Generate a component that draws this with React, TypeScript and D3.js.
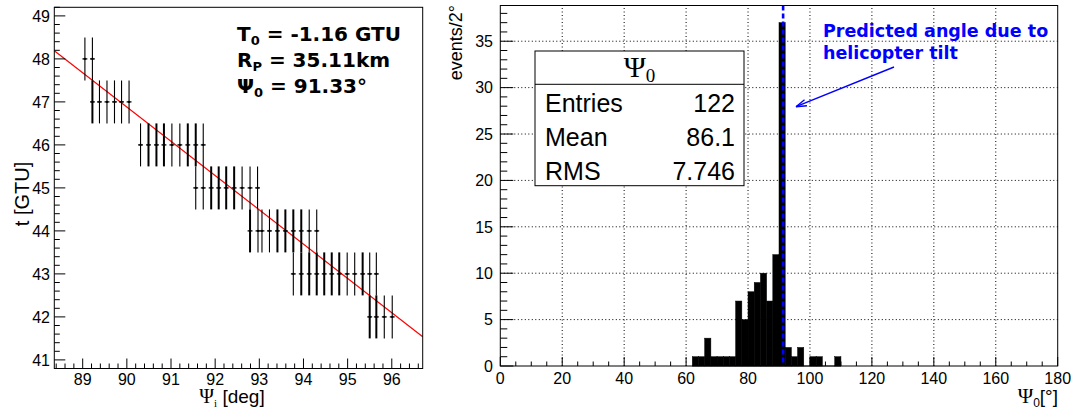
import React from "react";
import * as d3 from "d3";

// ---------- Left panel data: t vs Psi_i ----------
const psiValues = [
  89.05, 89.22,
  89.22, 89.38, 89.55, 89.72, 89.88, 90.05,
  90.31, 90.49, 90.67, 90.84, 91.02, 91.2, 91.38, 91.56, 91.73,
  91.56, 91.73, 91.91, 92.08, 92.25, 92.43, 92.61, 92.79, 92.96,
  92.79, 92.97, 93.06, 93.23, 93.41, 93.59, 93.77, 93.95, 94.13, 94.3,
  93.77, 93.95, 94.13, 94.3, 94.47, 94.64, 94.81, 94.99, 95.16, 95.34, 95.5, 95.65,
  95.5, 95.65, 95.83, 96.01,
];
const tValues = [
  48, 48,
  47, 47, 47, 47, 47, 47,
  46, 46, 46, 46, 46, 46, 46, 46, 46,
  45, 45, 45, 45, 45, 45, 45, 45, 45,
  44, 44, 44, 44, 44, 44, 44, 44, 44, 44,
  43, 43, 43, 43, 43, 43, 43, 43, 43, 43, 43, 43,
  42, 42, 42, 42,
];
// how many measurements overlap at the same point
const multiplicity = [
  1, 1,
  2, 1, 1, 1, 1, 1,
  1, 2, 2, 2, 1, 1, 2, 2, 1,
  1, 1, 2, 2, 2, 2, 1, 1, 1,
  2, 1, 1, 1, 2, 2, 2, 2, 1, 1,
  1, 2, 2, 2, 2, 2, 2, 1, 1, 2, 1, 1,
  2, 2, 1, 1,
];
const tError = 0.5;
const psiError = 0.055;
// linear fit t = p0 + p1 * psi
const fitP0 = 118.61;
const fitP1 = -0.797;
const leftXTicks = [89, 90, 91, 92, 93, 94, 95, 96];
const leftYTicks = [41, 42, 43, 44, 45, 46, 47, 48, 49];

// ---------- Right panel data: Psi_0 histogram ----------
const binLow = [62, 64, 66, 68, 70, 72, 74, 76, 78, 80, 82, 84, 86, 88, 90, 92, 94, 96, 98, 100, 102, 104, 106, 108];
const binCounts = [1, 1, 3, 1, 1, 1, 1, 7, 5, 8, 9, 10, 7, 12, 37, 2, 1, 2, 0, 1, 1, 0, 0, 1];
const binWidth = 2;
const predictedAngle = 91.33;
const rightXTicks = [0, 20, 40, 60, 80, 100, 120, 140, 160, 180];
const rightYTicks = [0, 5, 10, 15, 20, 25, 30, 35];
const statsLabels = ["Entries", "Mean", "RMS"];
const statsValues = ["122", "86.1", "7.746"];

const SANS = "'Liberation Sans', Arial, Helvetica, sans-serif";
const SERIF = "'Liberation Serif', 'Times New Roman', serif";
const BOLD = "'DejaVu Sans', sans-serif";
const BLUE = "#0000ff";

export default function App() {
  const xL = d3.scaleLinear().domain([88.357, 96.7]).range([54.3, 422.7]);
  const yL = d3.scaleLinear().domain([40.8, 49.2]).range([368.5, 7.3]);
  const xR = d3.scaleLinear().domain([0, 180]).range([500.3, 1057.7]);
  const yR = d3.scaleLinear().domain([0, 38.85]).range([366, 5.5]);

  const [lx0, lx1] = xL.range();
  const [ly0, ly1] = yL.range();
  const [rx0, rx1] = xR.range();
  const [ry0, ry1] = yR.range();

  const leftMinorX = d3.range(88.4, 96.7, 0.2).filter((v) => Math.abs(v - Math.round(v)) > 0.01);
  const leftMinorY = d3.range(40.8, 49.2, 0.2).filter((v) => Math.abs(v - Math.round(v)) > 0.01);
  const rightMinorX = d3.range(5, 180, 5).filter((v) => v % 20 !== 0);
  const rightMinorY = d3.range(1, 39, 1).filter((v) => v % 5 !== 0);

  const fitX0 = xL.domain()[0];
  const fitX1 = xL.domain()[1];

  const arrStart = [894, 67];
  const arrEnd = [796, 106.7];
  const ang = Math.atan2(arrStart[1] - arrEnd[1], arrStart[0] - arrEnd[0]);
  const headLen = 11;
  const headAng = 0.3;

  return (
    <svg width={1073} height={412} style={{ position: "absolute", left: 0, top: 0, background: "#fff" }}>
      <rect x={0} y={0} width={1073} height={412} fill="#fff" />
      {/* ================= LEFT PANEL ================= */}
      <g>
        <line
          x1={xL(fitX0)} y1={yL(fitP0 + fitP1 * fitX0)}
          x2={xL(fitX1)} y2={yL(fitP0 + fitP1 * fitX1)}
          stroke="#ff0000" strokeWidth={1.2}
        />
        {psiValues.map((p, i) => {
          const cx = xL(p);
          const cy = yL(tValues[i]);
          const w = multiplicity[i] > 1 ? 2 : 1.1;
          return (
            <g key={i}>
              <line x1={cx} x2={cx} y1={yL(tValues[i] - tError)} y2={yL(tValues[i] + tError)} stroke="#000" strokeWidth={w} />
              <line x1={xL(p - psiError)} x2={xL(p + psiError)} y1={cy} y2={cy} stroke="#000" strokeWidth={1.3} />
              <rect x={cx - 1} y={cy - 1} width={2} height={2} fill="#000" />
            </g>
          );
        })}
        <rect x={lx0} y={ly1} width={lx1 - lx0} height={ly0 - ly1} fill="none" stroke="#000" strokeWidth={1} />
        {leftXTicks.map((v) => (
          <g key={"lx" + v}>
            <line x1={xL(v)} x2={xL(v)} y1={ly0} y2={ly0 - 10} stroke="#000" />
            <text x={xL(v)} y={385} textAnchor="middle" fontFamily={SANS} fontSize={16}>{v}</text>
          </g>
        ))}
        {leftMinorX.map((v, i) => (
          <line key={"lmx" + i} x1={xL(v)} x2={xL(v)} y1={ly0} y2={ly0 - 5} stroke="#000" />
        ))}
        {leftYTicks.map((v) => (
          <g key={"ly" + v}>
            <line x1={lx0} x2={lx0 + 11} y1={yL(v)} y2={yL(v)} stroke="#000" />
            <text x={50} y={yL(v)} dy="0.36em" textAnchor="end" fontFamily={SANS} fontSize={16}>{v}</text>
          </g>
        ))}
        {leftMinorY.map((v, i) => (
          <line key={"lmy" + i} x1={lx0} x2={lx0 + 5.5} y1={yL(v)} y2={yL(v)} stroke="#000" />
        ))}
        <text transform="translate(29,194) rotate(-90)" textAnchor="middle" fontFamily={SANS} fontSize={20}>t [GTU]</text>
        <text x={232} y={403} textAnchor="middle" fontSize={19}>
          <tspan fontFamily={SERIF} fontSize={20}>Ψ</tspan>
          <tspan fontFamily={SERIF} fontSize={11} dy={4}>i</tspan>
          <tspan fontFamily={SANS} dy={-4}> [deg]</tspan>
        </text>
        <g fontFamily={BOLD} fontWeight="bold" fontSize={20}>
          <text x={237} y={41}>T<tspan fontSize={13} dy={4}>0</tspan><tspan dy={-4}> = -1.16 GTU</tspan></text>
          <text x={237} y={67}>R<tspan fontSize={13} dy={4}>P</tspan><tspan dy={-4}> = 35.11km</tspan></text>
          <text x={237} y={93}>Ψ<tspan fontSize={13} dy={4}>0</tspan><tspan dy={-4}> = 91.33°</tspan></text>
        </g>
      </g>

      {/* ================= RIGHT PANEL ================= */}
      <g>
        {rightXTicks.filter((v) => v > 0 && v < 180).map((v) => (
          <line key={"gx" + v} x1={xR(v)} x2={xR(v)} y1={ry0} y2={ry1} stroke="#000" strokeWidth={1} strokeDasharray="1,2.5" />
        ))}
        {rightYTicks.filter((v) => v > 0).map((v) => (
          <line key={"gy" + v} x1={rx0} x2={rx1} y1={yR(v)} y2={yR(v)} stroke="#000" strokeWidth={1} strokeDasharray="1,2.5" />
        ))}
        <line x1={xR(binLow[0])} x2={xR(binLow[binLow.length - 1] + binWidth)} y1={ry0} y2={ry0} stroke="#888" strokeWidth={1.5} />
        {binLow.map((b, i) =>
          binCounts[i] > 0 ? (
            <rect key={"b" + i} x={xR(b)} y={yR(binCounts[i])} width={xR(b + binWidth) - xR(b)} height={ry0 - yR(binCounts[i])} fill="#000" stroke="#000" strokeWidth={0.5} />
          ) : null
        )}
        <line x1={xR(predictedAngle)} x2={xR(predictedAngle)} y1={ry1} y2={ry0} stroke={BLUE} strokeWidth={2.6} strokeDasharray="5,3" />
        <rect x={rx0} y={ry1} width={rx1 - rx0} height={ry0 - ry1} fill="none" stroke="#000" strokeWidth={1} />
        {rightXTicks.map((v) => (
          <g key={"rx" + v}>
            <line x1={xR(v)} x2={xR(v)} y1={ry0} y2={ry0 - 9} stroke="#000" />
            <text x={xR(v)} y={384} textAnchor="middle" fontFamily={SANS} fontSize={16}>{v}</text>
          </g>
        ))}
        {rightMinorX.map((v) => (
          <line key={"rmx" + v} x1={xR(v)} x2={xR(v)} y1={ry0} y2={ry0 - 4.5} stroke="#000" />
        ))}
        {rightYTicks.map((v) => (
          <g key={"ry" + v}>
            <line x1={rx0} x2={rx0 + 13} y1={yR(v)} y2={yR(v)} stroke="#000" />
            <text x={493} y={yR(v)} dy="0.36em" textAnchor="end" fontFamily={SANS} fontSize={16}>{v}</text>
          </g>
        ))}
        {rightMinorY.map((v) => (
          <line key={"rmy" + v} x1={rx0} x2={rx0 + 7} y1={yR(v)} y2={yR(v)} stroke="#000" />
        ))}
        <text transform="translate(462,5) rotate(-90)" textAnchor="end" fontFamily={SANS} fontSize={18}>events/2°</text>
        <text x={1058} y={403} textAnchor="end" fontSize={19}>
          <tspan fontFamily={SERIF} fontSize={21}>Ψ</tspan>
          <tspan fontFamily={SANS} fontSize={12} dy={4}>0</tspan>
          <tspan fontFamily={SANS} dy={-4}>[°]</tspan>
        </text>
        <rect x={535} y={51} width={209} height={134.7} fill="#fff" stroke="#000" strokeWidth={1} />
        <line x1={535} x2={744} y1={84.3} y2={84.3} stroke="#000" />
        <text x={639.5} y={77} textAnchor="middle" fontFamily={SERIF} fontSize={30}>
          Ψ<tspan fontSize={19} dy={5}>0</tspan>
        </text>
        {statsLabels.map((s, i) => (
          <g key={s} fontFamily={SANS} fontSize={25}>
            <text x={545} y={112 + i * 34}>{s}</text>
            <text x={735} y={112 + i * 34} textAnchor="end">{statsValues[i]}</text>
          </g>
        ))}
        <g fontFamily={BOLD} fontWeight="bold" fontSize={17.5} fill={BLUE}>
          <text x={823} y={37}>Predicted angle due to</text>
          <text x={823} y={59}>helicopter tilt</text>
        </g>
        <line x1={arrStart[0]} y1={arrStart[1]} x2={arrEnd[0]} y2={arrEnd[1]} stroke={BLUE} strokeWidth={1.4} />
        <line x1={arrEnd[0]} y1={arrEnd[1]} x2={arrEnd[0] + headLen * Math.cos(ang + headAng)} y2={arrEnd[1] + headLen * Math.sin(ang + headAng)} stroke={BLUE} strokeWidth={1.4} />
        <line x1={arrEnd[0]} y1={arrEnd[1]} x2={arrEnd[0] + headLen * Math.cos(ang - headAng)} y2={arrEnd[1] + headLen * Math.sin(ang - headAng)} stroke={BLUE} strokeWidth={1.4} />
      </g>
    </svg>
  );
}
